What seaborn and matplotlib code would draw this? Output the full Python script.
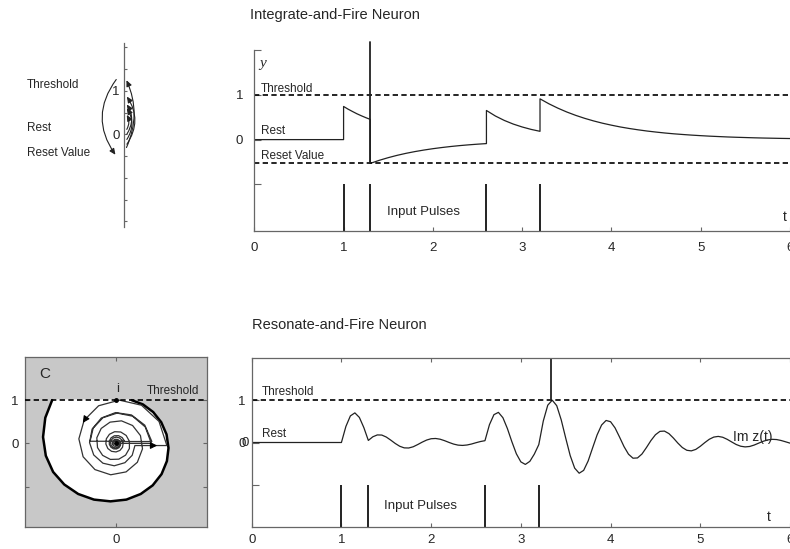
import numpy as np
import pandas as pd
import matplotlib
matplotlib.use("Agg")
import matplotlib.pyplot as plt
import seaborn as sns
from matplotlib.patches import FancyArrowPatch

# ---------------- data ----------------
pulse_times = [1.0, 1.3, 2.6, 3.2]
threshold = 1.0
reset_value = -0.53

# Integrate-and-fire trace y(t)
if_t = [0.0, 1.0, 1.0, 1.05, 1.1, 1.15, 1.2, 1.25, 1.3,
        1.3, 1.4, 1.5, 1.6, 1.7, 1.8, 1.9, 2.0, 2.1, 2.2, 2.3, 2.4, 2.5, 2.6,
        2.6, 2.7, 2.8, 2.9, 3.0, 3.1, 3.2,
        3.2, 3.3, 3.4, 3.5, 3.6, 3.7, 3.8, 3.9, 4.0, 4.1, 4.2, 4.3, 4.4, 4.5,
        4.6, 4.7, 4.8, 4.9, 5.0, 5.1, 5.2, 5.3, 5.4, 5.5, 5.6, 5.7, 5.8, 5.9, 6.0]
if_y = [0.0, 0.0, 0.74, 0.68, 0.627, 0.576, 0.531, 0.489, 0.45,
        -0.53, -0.462, -0.403, -0.351, -0.306, -0.267, -0.233, -0.203, -0.177,
        -0.154, -0.134, -0.117, -0.102, -0.089,
        0.65, 0.527, 0.428, 0.347, 0.282, 0.228, 0.185,
        0.91, 0.799, 0.702, 0.616, 0.541, 0.475, 0.417, 0.366, 0.322, 0.282,
        0.248, 0.218, 0.191, 0.168, 0.147, 0.129, 0.114, 0.100, 0.088, 0.077,
        0.068, 0.059, 0.052, 0.046, 0.040, 0.035, 0.031, 0.027, 0.024]
if_spike_t = 1.3
if_spike_top = 2.17

# Resonate-and-fire trace z(t) = re + i*im, piecewise between pulses
rf_t_rest = [0.0, 1.0]
rf_re_rest = [0.0, 0.0]
rf_im_rest = [0.0, 0.0]

rf_t_a = [1.00, 1.05, 1.10, 1.15, 1.20, 1.25, 1.30]
rf_im_a = [0.000, 0.380, 0.629, 0.700, 0.593, 0.352, 0.049]
rf_re_a = [0.820, 0.679, 0.386, 0.029, -0.300, -0.524, -0.596]

rf_t_b = [1.30, 1.35, 1.40, 1.45, 1.50, 1.55, 1.60, 1.65, 1.70, 1.75, 1.80,
          1.85, 1.90, 1.95, 2.00, 2.05, 2.10, 2.15, 2.20, 2.25, 2.30, 2.35,
          2.40, 2.45, 2.50, 2.55, 2.60]
rf_im_b = [0.049, 0.135, 0.179, 0.176, 0.129, 0.056, -0.023, -0.089, -0.127,
           -0.130, -0.101, -0.049, 0.008, 0.058, 0.089, 0.095, 0.078, 0.043,
           0.001, -0.037, -0.062, -0.069, -0.059, -0.036, -0.005, 0.023, 0.043]
rf_re_b = [0.204, 0.146, 0.059, -0.035, -0.110, -0.151, -0.151, -0.114,
           -0.053, 0.015, 0.072, 0.107, 0.111, 0.088, 0.046, -0.003, -0.047,
           -0.075, -0.081, -0.068, -0.039, -0.004, 0.029, 0.051, 0.059, 0.052,
           0.032]

rf_t_c = [2.60, 2.65, 2.70, 2.75, 2.80, 2.85, 2.90, 2.95, 3.00, 3.05, 3.10,
          3.15, 3.20]
rf_im_c = [0.043, 0.421, 0.658, 0.712, 0.586, 0.330, 0.018, -0.267, -0.458,
           -0.518, -0.446, -0.275, -0.050]
rf_re_c = [0.832, 0.669, 0.360, -0.008, -0.336, -0.549, -0.608, -0.512,
           -0.299, -0.037, 0.210, 0.378, 0.441]

rf_t_d = [3.20, 3.25, 3.30, 3.35, 3.40, 3.45, 3.50, 3.55, 3.60, 3.65, 3.70,
          3.75, 3.80, 3.85, 3.90, 3.95, 4.00, 4.05, 4.10, 4.15, 4.20, 4.25,
          4.30, 4.35, 4.40, 4.45, 4.50, 4.55, 4.60, 4.65, 4.70, 4.75, 4.80,
          4.85, 4.90, 4.95, 5.00, 5.05, 5.10, 5.15, 5.20, 5.25, 5.30, 5.35,
          5.40, 5.45, 5.50, 5.55, 5.60, 5.65, 5.70, 5.75, 5.80, 5.85, 5.90,
          5.95, 6.00]
rf_im_d = [-0.050, 0.507, 0.882, 1.000, 0.870, 0.535, 0.105, -0.309, -0.606,
           -0.726, -0.659, -0.437, -0.126, 0.180, 0.413, 0.521, 0.491, 0.345,
           0.129, -0.097, -0.277, -0.371, -0.365, -0.272, -0.119, 0.046, 0.183,
           0.263, 0.270, 0.211, 0.106, -0.014, -0.119, -0.184, -0.198, -0.163,
           -0.090, -0.003, 0.076, 0.128, 0.144, 0.124, 0.075, 0.013, -0.047,
           -0.088, -0.104, -0.094, -0.061, -0.016, 0.028, 0.060, 0.075, 0.070,
           0.048, 0.017, -0.015]
rf_re_d = [1.179, 0.998, 0.592, 0.081, -0.398, -0.733, -0.855, -0.757, -0.483,
           -0.119, 0.237, 0.497, 0.616, 0.569, 0.387, 0.130, -0.134, -0.339,
           -0.440, -0.424, -0.306, -0.126, 0.068, 0.225, 0.313, 0.314, 0.239,
           0.113, -0.028, -0.148, -0.220, -0.231, -0.185, -0.099, 0.004, 0.094,
           0.154, 0.169, 0.142, 0.082, 0.009, -0.060, -0.107, -0.123, -0.108,
           -0.068, -0.015, 0.036, 0.073, 0.089, 0.081, 0.054, 0.017, -0.021,
           -0.050, -0.063, -0.061]
rf_spike_t = 3.34

# Boundary of the non-firing region in the phase plane
bound_x = [-1.472, -1.631, -1.683, -1.619, -1.450, -1.193, -0.870, -0.505,
           -0.125, 0.243, 0.575, 0.852, 1.057, 1.180, 1.217, 1.172, 1.049,
           0.863, 0.629, 0.365]
bound_y = [1.000, 0.593, 0.147, -0.285, -0.660, -0.950, -1.170, -1.300,
           -1.340, -1.300, -1.170, -0.970, -0.710, -0.410, -0.107, 0.207,
           0.489, 0.724, 0.899, 1.000]

# Phase-line jumps (start, end) for the integrate-and-fire 1-D picture
phase_reset_arc = (1.31, -0.52)
phase_jump_arcs = [(-0.36, 1.30), (-0.28, 0.92), (-0.05, 0.74),
                   (-0.17, 0.65), (0.06, 0.50)]

# ---------------- assemble tables ----------------
df_if = pd.DataFrame({"t": if_t, "y": if_y})
df_rf = pd.DataFrame({
    "t": rf_t_rest + rf_t_a + rf_t_b + rf_t_c + rf_t_d,
    "re": rf_re_rest + rf_re_a + rf_re_b + rf_re_c + rf_re_d,
    "im": rf_im_rest + rf_im_a + rf_im_b + rf_im_c + rf_im_d,
})

# ---------------- style ----------------
sns.set_style("white")
plt.rcParams["font.family"] = ["Liberation Sans", "DejaVu Sans"]
LINE = "#222222"
SPINE = "#666666"
DASH = (0, (3.2, 2.0))

W, H = 790, 549
fig = plt.figure(figsize=(W / 100, H / 100), dpi=100)


def px_axes(x0, y0, x1, y1):
    return fig.add_axes([x0 / W, 1 - y1 / H, (x1 - x0) / W, (y1 - y0) / H])


def style_spines(ax, visible):
    for k, s in ax.spines.items():
        s.set_visible(k in visible)
        s.set_color(SPINE)
        s.set_linewidth(0.9)


# ---------------- top right: integrate-and-fire ----------------
ax1 = px_axes(254.3, 50, 790, 231)
sns.lineplot(data=df_if, x="t", y="y", sort=False, estimator=None, ax=ax1,
             color=LINE, lw=0.9)
ax1.set_xlim(0, 6.0)
ax1.set_ylim(-2.04, 2.0)
ax1.axhline(threshold, color="black", lw=1.2, ls=DASH)
ax1.axhline(reset_value, color="black", lw=1.2, ls=DASH)
ax1.vlines(pulse_times, -2.04, -1.0, color=LINE, lw=1.4)
ax1.plot([if_spike_t, if_spike_t], [reset_value, if_spike_top], color=LINE,
         lw=1.3, clip_on=False)
style_spines(ax1, ["left", "bottom"])
ax1.set_xticks(range(7))
ax1.set_xticklabels([str(i) for i in range(7)])
ax1.set_yticks([2, 1, 0, -1])
ax1.set_yticklabels(["", "1", "0", ""])
ax1.tick_params(axis="x", direction="in", length=3, pad=8, labelsize=9.5,
                color=SPINE, bottom=True)
ax1.tick_params(axis="y", direction="in", length=5, pad=8, labelsize=9.5,
                color=SPINE, left=True)
ax1.set_xlabel("")
ax1.set_ylabel("")
ax1.text(0.06, 1.69, "y", family="Liberation Serif", style="italic",
         fontsize=11, va="center")
ax1.text(0.075, 1.13, "Threshold", fontsize=8.5, va="center")
ax1.text(0.075, 0.19, "Rest", fontsize=8.5, va="center")
ax1.text(0.075, -0.37, "Reset Value", fontsize=8.5, va="center")
ax1.text(1.49, -1.61, "Input Pulses", fontsize=9.5, va="center")
ax1.text(5.92, -1.72, "t", fontsize=10, va="center")

# ---------------- bottom right: resonate-and-fire ----------------
ax2 = px_axes(251.7, 358.3, 790, 526.7)
sns.lineplot(data=df_rf, x="t", y="im", sort=False, estimator=None, ax=ax2,
             color=LINE, lw=0.9)
ax2.set_xlim(0, 5.98)
ax2.set_ylim(-1.99, 1.99)
ax2.axhline(threshold, color="black", lw=1.2, ls=DASH)
ax2.vlines(pulse_times, -1.99, -1.0, color=LINE, lw=1.4)
ax2.vlines([rf_spike_t], threshold, 1.99, color=LINE, lw=1.3)
style_spines(ax2, ["left", "bottom", "top"])
ax2.set_xticks(range(7))
ax2.set_xticklabels([str(i) for i in range(7)])
ax2.set_yticks([1, 0, -1])
ax2.set_yticklabels(["1", "0", ""])
ax2.tick_params(axis="x", direction="in", length=3, pad=5, labelsize=9.5,
                color=SPINE, bottom=True, top=True)
ax2.tick_params(axis="y", direction="in", length=5, pad=4.5, labelsize=9.5,
                color=SPINE, left=True)
ax2.set_xlabel("")
ax2.set_ylabel("")
fig.text(245.5 / W, 1 - 443 / H, "0", fontsize=9.5, ha="center", va="center")
ax2.text(0.11, 1.19, "Threshold", fontsize=8.5, va="center")
ax2.text(0.11, 0.19, "Rest", fontsize=8.5, va="center")
ax2.text(1.47, -1.5, "Input Pulses", fontsize=9.5, va="center")
ax2.text(5.74, -1.77, "t", fontsize=10, va="center")
ax2.text(5.37, 0.13, "Im z(t)", fontsize=10, va="center")

# ---------------- bottom left: phase plane ----------------
ax3 = px_axes(25, 357.3, 206.7, 527.3)
ax3.set_facecolor("#c8c8c8")
ax3.fill(bound_x, bound_y, color="white", zorder=1)
ax3.plot(bound_x, bound_y, color="black", lw=1.8, zorder=3)
sns.lineplot(data=df_rf, x="re", y="im", sort=False, estimator=None, ax=ax3,
             color="#333333", lw=0.9, zorder=4)
ax3.axhline(threshold, color="black", lw=1.2, ls=DASH, zorder=5)
ax3.set_xlim(-2.1, 2.1)
ax3.set_ylim(-1.94, 1.99)
style_spines(ax3, ["left", "bottom", "top", "right"])
ax3.set_xticks([0])
ax3.set_xticklabels(["0"])
ax3.set_yticks([1, 0, -1])
ax3.set_yticklabels(["1", "0", ""])
ax3.tick_params(axis="x", direction="in", length=3, pad=5, labelsize=9.5,
                color=SPINE, bottom=True, top=True)
ax3.tick_params(axis="y", direction="in", length=3, pad=4.5, labelsize=9.5,
                color=SPINE, left=True, right=True)
ax3.set_xlabel("")
ax3.set_ylabel("")
ax3.plot([0, 0], [1.0, 0.0], ls="none", marker="o", ms=2.5, color="black",
         zorder=6)
ax3.add_patch(FancyArrowPatch((-0.70, 0.57), (-0.80, 0.42),
                              arrowstyle="-|>,head_length=4,head_width=2",
                              mutation_scale=1, color="black", lw=0.8,
                              zorder=6))
ax3.add_patch(FancyArrowPatch((0.80, -0.05), (1.02, -0.05),
                              arrowstyle="-|>,head_length=4,head_width=2",
                              mutation_scale=1, color="black", lw=0.8,
                              zorder=6))
ax3.text(-1.78, 1.6, "C", fontsize=11, va="center")
ax3.text(0.04, 1.25, "i", fontsize=9.5, va="center", ha="center")
ax3.text(0.72, 1.2, "Threshold", fontsize=8.5, va="center")

# ---------------- top left: 1-D phase line ----------------
ax4 = px_axes(94, 43.3, 154, 226.7)
ax4.set_xlim(-0.69, 0.69)
ax4.set_ylim(-2.12, 2.09)
ax4.patch.set_alpha(0)
style_spines(ax4, ["left"])
ax4.spines["left"].set_position(("data", 0))
ax4.set_xticks([])
ax4.set_yticks([-2, -1.5, -1, -0.5, 0, 0.5, 1, 1.5, 2])
ax4.set_yticklabels(["", "", "", "", "0", "", "1", "", ""])
ax4.tick_params(axis="y", direction="in", length=2.5, pad=3, labelsize=9.5,
                color=SPINE, left=True)
arc_style = "-|>,head_length=3.5,head_width=1.6"
ax4.add_patch(FancyArrowPatch((-0.14, phase_reset_arc[0]),
                              (-0.16, phase_reset_arc[1]),
                              connectionstyle="arc3,rad=0.38",
                              arrowstyle=arc_style, mutation_scale=1,
                              color="#222222", lw=0.8, clip_on=False))
for (y0, y1) in phase_jump_arcs:
    rad = 0.24 if (y1 - y0) > 1.3 else 0.36
    ax4.add_patch(FancyArrowPatch((0.03, y0), (0.03, y1),
                                  connectionstyle=f"arc3,rad={rad}",
                                  arrowstyle=arc_style, mutation_scale=1,
                                  color="#222222", lw=0.8, clip_on=False))

fig.text(27 / W, 1 - 85 / H, "Threshold", fontsize=8.5, va="center")
fig.text(27 / W, 1 - 128 / H, "Rest", fontsize=8.5, va="center")
fig.text(27 / W, 1 - 153 / H, "Reset Value", fontsize=8.5, va="center")

# ---------------- titles ----------------
fig.text(250 / W, 1 - 15 / H, "Integrate-and-Fire Neuron", fontsize=10.5,
         va="center")
fig.text(252 / W, 1 - 325 / H, "Resonate-and-Fire Neuron", fontsize=10.5,
         va="center")

fig.savefig("out.png", dpi=100)
